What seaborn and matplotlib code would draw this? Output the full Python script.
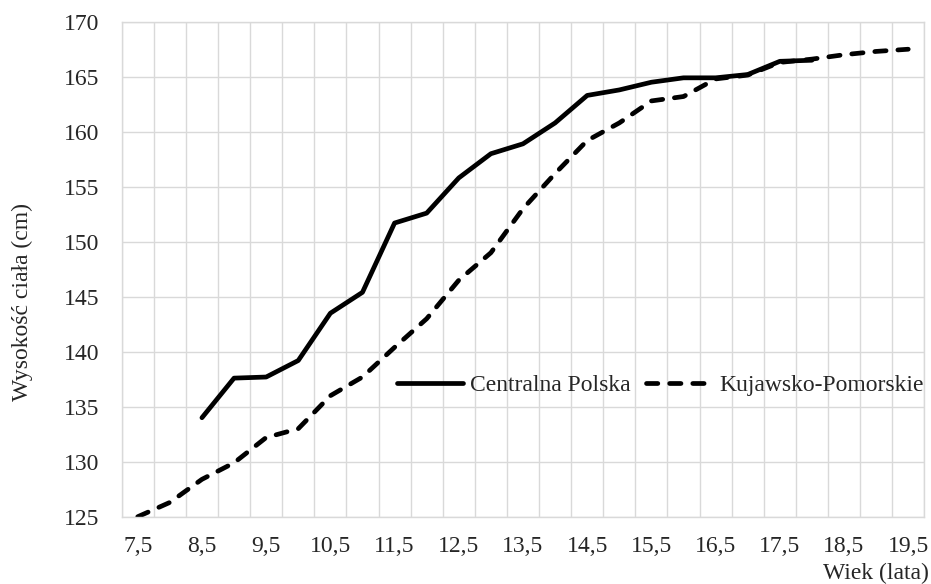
import matplotlib
matplotlib.use('Agg')
import matplotlib.pyplot as plt
import numpy as np
import seaborn as sns

# age categories (every half year) and mean body height (cm)
ages = [7.5, 8.0, 8.5, 9.0, 9.5, 10.0, 10.5, 11.0, 11.5, 12.0, 12.5, 13.0, 13.5,
        14.0, 14.5, 15.0, 15.5, 16.0, 16.5, 17.0, 17.5, 18.0, 18.5, 19.0, 19.5]
centralna = [np.nan, np.nan, 134.0, 137.6, 137.7, 139.2, 143.5, 145.4, 151.7, 152.6,
             155.8, 158.0, 158.9, 160.8, 163.3, 163.8, 164.5, 164.9, 164.9, 165.2,
             166.4, 166.5, np.nan, np.nan, np.nan]
kujawsko = [125.0, 126.3, 128.4, 129.9, 132.2, 133.0, 136.0, 137.7, 140.4, 143.0,
            146.5, 149.0, 153.0, 156.2, 159.2, 160.8, 162.8, 163.2, 164.8, 165.15,
            166.3, 166.6, 167.0, 167.3, 167.5]
series_names = ['Centralna Polska', 'Kujawsko-Pomorskie']
y_ticks = [125, 130, 135, 140, 145, 150, 155, 160, 165, 170]
x_label_ages = ages[::2]

sns.set_style('white')
plt.rcParams['font.family'] = ['Liberation Serif', 'DejaVu Serif']

fig = plt.figure(figsize=(9.31, 5.84), dpi=100)
ax = fig.add_axes([0.1307, 0.1152, 0.8621, 0.8476])

grid_col = '#d9d9d9'
fs = 17
lw = 3.4

sns.lineplot(x=ages, y=centralna, ax=ax, color='black', linewidth=lw,
             solid_capstyle='round', solid_joinstyle='round', label=series_names[0])
sns.lineplot(x=ages, y=kujawsko, ax=ax, color='black', linewidth=lw,
             linestyle=(0, (2.4, 2.5)), dash_capstyle='round', dash_joinstyle='round',
             label=series_names[1])

ax.set_xlim(7.25, 19.75)
ax.set_ylim(125, 170)

# category axis: labels at every other category, gridlines between categories
ax.set_xticks(x_label_ages)
ax.set_xticklabels([f'{a:.1f}'.replace('.', ',') for a in x_label_ages], fontsize=fs)
ax.set_xticks(np.arange(7.25, 19.76, 0.5), minor=True)
ax.set_yticks(y_ticks)
ax.set_yticklabels([str(v) for v in y_ticks], fontsize=fs)

ax.tick_params(axis='both', which='both', length=0)
ax.tick_params(axis='x', pad=14)
ax.tick_params(axis='y', pad=16)

ax.grid(False)
ax.grid(True, which='minor', axis='x', color=grid_col, linewidth=1.0)
ax.grid(True, which='major', axis='y', color=grid_col, linewidth=1.0)
ax.set_axisbelow(True)
for sp in ax.spines.values():
    sp.set_visible(True)
    sp.set_color(grid_col)
    sp.set_linewidth(1.0)

ax.set_xlabel('')
ax.set_ylabel('')

ax.legend(loc='center left', bbox_to_anchor=(0.343, 0.266), ncol=2, frameon=False,
          fontsize=fs, handlelength=2.8, handletextpad=0.3, columnspacing=0.65,
          borderpad=0, borderaxespad=0)

fig.text(22 / 931, 1 - 302 / 584, 'Wysokość ciała (cm)', rotation=90,
         ha='center', va='center', fontsize=fs)
fig.text(929 / 931, 1 - 573 / 584, 'Wiek (lata)', ha='right', va='center', fontsize=fs)

fig.savefig('out.png', dpi=100)
